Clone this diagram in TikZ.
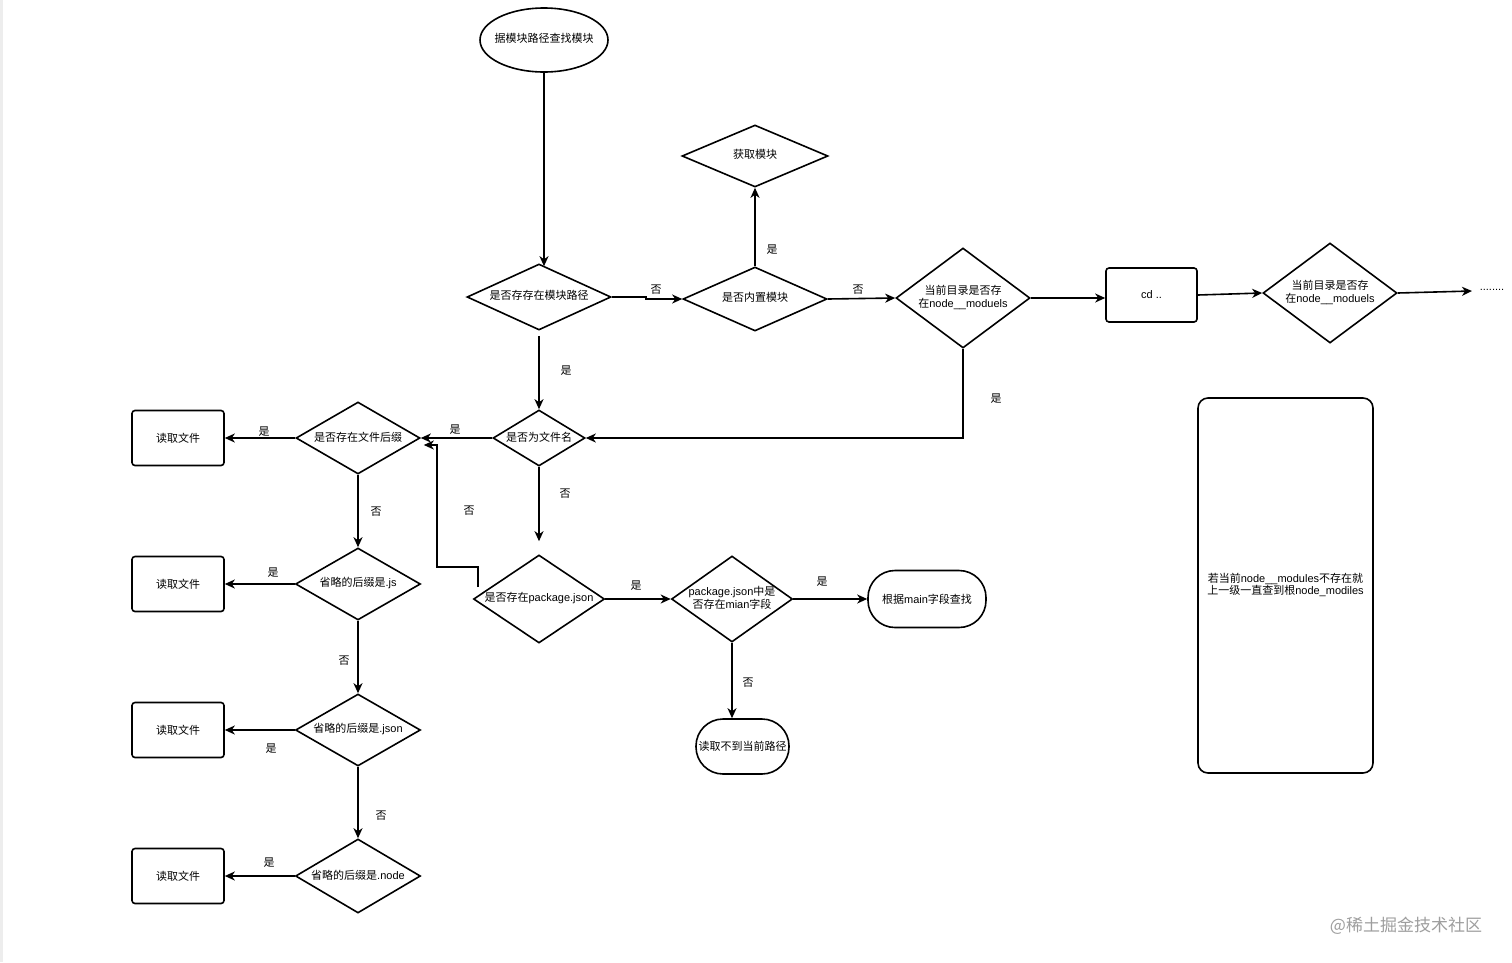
\documentclass[tikz,border=0pt]{standalone}
\usepackage{fontspec}
\setmainfont{Noto Sans CJK SC}
\newfontfamily\lat{Liberation Sans}
\usetikzlibrary{shapes.geometric,arrows.meta}
\newcommand{\dtxt}[1]{\makebox[0pt]{\renewcommand{\arraystretch}{0.85}\begin{tabular}{@{}c@{}}#1\end{tabular}}}
\tikzset{
  every node/.style={font=\fontsize{11}{13}\selectfont, inner sep=0pt},
  dia/.style={diamond, draw, line width=1.6pt, inner sep=0pt},
  rbox/.style={rectangle, draw, line width=1.6pt, rounded corners=3pt, minimum width=92pt, minimum height=55pt},
  stad/.style={rectangle, draw, line width=1.6pt, rounded corners=27pt},
  arr/.style={line width=1.6pt, -{Stealth[length=10pt,width=9pt,inset=3pt]}},
  lbl/.style={font=\fontsize{11}{13}\selectfont}
}
\begin{document}
\begin{tikzpicture}[x=1pt,y=-1pt]
\useasboundingbox (0,0) rectangle (1512,962);
\fill[white] (0,0) rectangle (1512,962);
\fill[black!7] (0,0) rectangle (3,962);

% nodes
\node[ellipse, draw, line width=1.6pt, minimum width=128pt, minimum height=64pt] (E) at (544,40) {\dtxt{据模块路径查找模块}};
\node[dia, minimum width=144pt, minimum height=66pt] (D1) at (539,297) {\dtxt{是否存存在模块路径}};
\node[dia, minimum width=144pt, minimum height=64pt] (D2) at (755,299) {\dtxt{是否内置模块}};
\node[dia, minimum width=146pt, minimum height=62pt] (G) at (755,156) {\dtxt{获取模块}};
\node[dia, minimum width=134pt, minimum height=100pt] (D3) at (963,298) {\dtxt{当前目录是否存\\在{\lat node\_\_moduels}}};
\node[rbox, minimum width=91pt, minimum height=54pt] (CD) at (1151.5,295) {{\lat cd ..}};
\node[dia, minimum width=134pt, minimum height=100pt] (D4) at (1330,293) {\dtxt{当前目录是否存\\在{\lat node\_\_moduels}}};
\coordinate (END) at (1472,291);
\node (DOTS) at (1492,290) {\lat ........};

\node[dia, minimum width=92pt, minimum height=56pt] (D5) at (539,438) {\dtxt{是否为文件名}};
\node[dia, minimum width=124pt, minimum height=72pt] (D6) at (358,438) {\dtxt{是否存在文件后缀}};
\node[dia, minimum width=125pt, minimum height=72pt] (D7) at (358,584) {\dtxt{省略的后缀是{\lat .js}}};
\node[dia, minimum width=125pt, minimum height=72pt] (D8) at (358,730) {\dtxt{省略的后缀是{\lat .json}}};
\node[dia, minimum width=125pt, minimum height=74pt] (D9) at (358,876) {\dtxt{省略的后缀是{\lat .node}}};

\node[rbox] (R1) at (178,438) {读取文件};
\node[rbox] (R2) at (178,584) {读取文件};
\node[rbox] (R3) at (178,730) {读取文件};
\node[rbox] (R4) at (178,876) {读取文件};

\node[dia, minimum width=131pt, minimum height=88pt] (D10) at (539,599) {\dtxt{是否存在{\lat package.json}}};
\node[dia, minimum width=121pt, minimum height=86pt] (D11) at (732,599) {\dtxt{{\lat package.json}中是\\否存在{\lat mian}字段}};
\node[stad, minimum width=118pt, minimum height=57pt] (S1) at (927,599) {根据{\lat main}字段查找};
\node[stad, minimum width=93pt, minimum height=55pt] (S2) at (742.5,746.5) {读取不到当前路径};

\node[rectangle, draw, line width=1.6pt, rounded corners=10pt, minimum width=175pt, minimum height=375pt] (BIG) at (1285.5,585.5) {\dtxt{若当前{\lat node\_\_modules}不存在就\\上一级一直查到根{\lat node\_modiles}}};

\node[text=black!38, font=\fontsize{17}{20}\selectfont] (WM) at (1406,926) {@稀土掘金技术社区};

% connectors
\draw[arr] (E.south) -- ([yshift=-3pt]E.south |- D1.north);
\draw[arr] (D1.east) -- ++(34,0) |- (D2.west);
\draw[arr] (D2.north) -- (G.south);
\draw[arr] (D2.east) -- (D3.west);
\draw[arr] (D3.east) -- (D3.east -| CD.west);
\draw[arr] (CD.east) -- (D4.west);
\draw[arr] (D4.east) -- (END);
\draw[arr] (D3.south) |- (D5.east);
\draw[arr] ([yshift=-5pt]D1.south) -- (D5.north);
\draw[arr] (D5.west) -- (D6.east);
\draw[arr] (D6.west) -- (R1.east);
\draw[arr] (D6.south) -- (D7.north);
\draw[arr] (D7.west) -- (R2.east);
\draw[arr] (D7.south) -- (D8.north);
\draw[arr] (D8.west) -- (R3.east);
\draw[arr] (D8.south) -- (D9.north);
\draw[arr] (D9.west) -- (R4.east);
\draw[arr] (D5.south) -- ([yshift=13pt]D10.north);
\coordinate (FB) at (478,587);
\draw[arr] (FB) |- (437,567) |- ([xshift=3pt,yshift=-7pt]D6.east);
\draw[arr] (D10.east) -- (D11.west);
\draw[arr] (D11.east) -- (S1.west);
\draw[arr] (D11.south) -- (D11.south |- S2.north);

% labels
\node[lbl] (L1) at (656,290) {否};
\node[lbl] (L2) at (772,250) {是};
\node[lbl] (L3) at (858,290) {否};
\node[lbl] (L4) at (996,399) {是};
\node[lbl] (L5) at (566,371) {是};
\node[lbl] (L6) at (455,430) {是};
\node[lbl] (L7) at (264,432) {是};
\node[lbl] (L8) at (376,512) {否};
\node[lbl] (L9) at (273,573) {是};
\node[lbl] (L10) at (344,661) {否};
\node[lbl] (L11) at (271,749) {是};
\node[lbl] (L12) at (381,816) {否};
\node[lbl] (L13) at (269,863) {是};
\node[lbl] (L14) at (565,494) {否};
\node[lbl] (L15) at (469,511) {否};
\node[lbl] (L16) at (636,586) {是};
\node[lbl] (L17) at (822,582) {是};
\node[lbl] (L18) at (748,683) {否};
\end{tikzpicture}
\end{document}
